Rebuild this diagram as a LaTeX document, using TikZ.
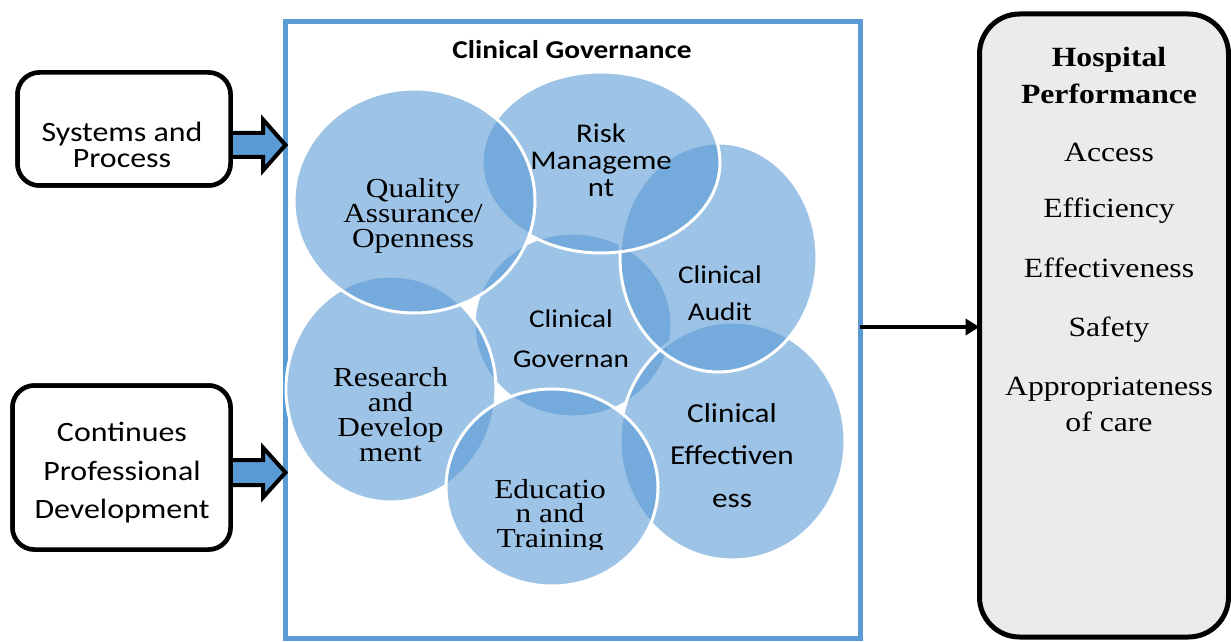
\documentclass[tikz,border=0pt]{standalone}
\usepackage{fontspec}
\setmainfont{Liberation Serif}[FakeStretch=1.14]
\newfontfamily\calib{Carlito}[FakeStretch=1.14]
\usetikzlibrary{arrows.meta,calc}
\definecolor{cgblue}{RGB}{91,155,213}
\definecolor{hpgrey}{RGB}{235,235,235}
% centred lines with a fixed baseline distance; the baseline is the first line's
\newcommand\stackc[2]{\vtop{\baselineskip=#1\relax\lineskiplimit=-\maxdimen
  \halign{\hfil##\hfil\cr#2\crcr}}}
\tikzset{
  venn/.style={fill=cgblue, fill opacity=0.6, draw=white, line width=3pt},
  blockarr/.style={draw=black, line width=4pt, fill=cgblue, line join=miter},
  lbox/.style={draw=black, line width=4.5pt, fill=white, rounded corners=22pt,
    inner sep=0, outer sep=0},
  txt/.style={anchor=base, inner sep=0, outer sep=0},
  sert/.style={txt, font=\fontsize{27.5}{27.5}\selectfont},
  calt/.style={txt, font=\calib\fontsize{25.6}{25.6}\selectfont},
  boxt/.style={txt, font=\calib\fontsize{28}{28}\selectfont},
  hpt/.style={txt, font=\fontsize{27.8}{27.8}\selectfont},
}
\begin{document}
\begin{tikzpicture}[x=1pt,y=1pt]
\useasboundingbox (0,0) rectangle (1231,641);

% clinical governance frame
\node[draw=cgblue, line width=5pt, minimum width=574.5pt, minimum height=616pt,
  inner sep=0, outer sep=0] (frame) at (572.75,311) {};
\node[txt, font=\calib\bfseries\fontsize{25.7}{25.7}\selectfont] (title)
  at (572,582) {Clinical Governance};

% overlapping components, lowest first
\path[venn] (573,316) ellipse [x radius=99, y radius=92];
\path[venn] (732.5,200) ellipse [x radius=112.5, y radius=119];
\path[venn] (718.5,383.5) ellipse [x radius=98.5, y radius=114.5];
\path[venn] (601,478.5) ellipse [x radius=119, y radius=90.5];
\path[venn] (391,252) ellipse [x radius=105, y radius=113];
\path[venn] (552,153.5) ellipse [x radius=106, y radius=98.5];
\path[venn] (414.5,440) ellipse [x radius=120.5, y radius=112];

% component labels
\node[sert] (tqa) at (413,443) {\stackc{25pt}{Quality\cr Assurance/\cr Openness}};
\node[calt, font=\calib\fontsize{27}{27}\selectfont] (trm) at (601,498)
  {\stackc{27pt}{Risk\cr Manageme\cr nt}};
\node[calt] (tca) at (720,358) {\stackc{37pt}{Clinical\cr Audit}};
\node[calt] (tcg) at (571,314) {\stackc{40pt}{Clinical\cr Governan}};
\node[sert] (trd) at (390.5,255) {\stackc{25pt}{Research\cr and\cr Develop\cr ment}};
\node[calt, font=\calib\fontsize{27.4}{27.4}\selectfont] (tce) at (732,219)
  {\stackc{42.5pt}{Clinical\cr Effectiven\cr ess}};
\begin{scope}
  \clip (440,92) rectangle (665,175);
  \node[sert] (tet) at (550,143) {\stackc{24.5pt}{Educatio\cr n and\cr Training}};
\end{scope}

% input boxes and block arrows
\node[lbox, minimum width=213pt, minimum height=113pt] (sys) at (124,512) {};
\node[lbox, minimum width=218pt, minimum height=164pt] (cpd) at (121.5,173.5) {};
\coordinate (a1) at (sys.east |- 0,496);
\coordinate (a2) at (cpd.east |- 0,168.5);
\draw[blockarr] ($(a1)+(0,12)$) -- ($(a1)+(32.5,12)$) -- ($(a1)+(32.5,25.5)$)
  -- (frame.west |- a1) -- ($(a1)+(32.5,-25.5)$) -- ($(a1)+(32.5,-12)$)
  -- ($(a1)+(0,-12)$) -- cycle;
\draw[blockarr] ($(a2)+(0,12.5)$) -- ($(a2)+(32.5,12.5)$) -- ($(a2)+(32.5,25)$)
  -- (frame.west |- a2) -- ($(a2)+(32.5,-25)$) -- ($(a2)+(32.5,-12.5)$)
  -- ($(a2)+(0,-12.5)$) -- cycle;
\node[lbox, minimum width=213pt, minimum height=113pt] at (sys) {};
\node[lbox, minimum width=218pt, minimum height=164pt] at (cpd) {};
\node[boxt] (tsys) at (122,499.3) {\stackc{26.3pt}{Systems and\cr Process}};
\node[boxt] (tcpd) at (122,199.3)
  {\stackc{38.3pt}{Continues\cr Professional\cr Development}};

% outcome box
\node[draw=black, line width=5pt, fill=hpgrey, rounded corners=40pt,
  minimum width=249pt, minimum height=623pt, inner sep=0, outer sep=0]
  (hosp) at (1104,315.5) {};
\draw[line width=3.5pt, -{Triangle[length=14pt,width=16pt]}]
  (frame.east |- 0,314) -- (hosp.west |- 0,314);
\node[hpt, font=\bfseries\fontsize{27.8}{27.8}\selectfont] (thp) at (1109,574.3)
  {\stackc{37.3pt}{Hospital\cr Performance}};
\node[hpt] (tacc) at (1109,479.3) {Access};
\node[hpt] (teff) at (1109,423) {Efficiency};
\node[hpt] (tefv) at (1109,363.3) {Effectiveness};
\node[hpt] (tsaf) at (1109,305) {Safety};
\node[hpt] (tapp) at (1109,246) {\stackc{36.7pt}{Appropriateness\cr of care}};
\end{tikzpicture}
\end{document}
